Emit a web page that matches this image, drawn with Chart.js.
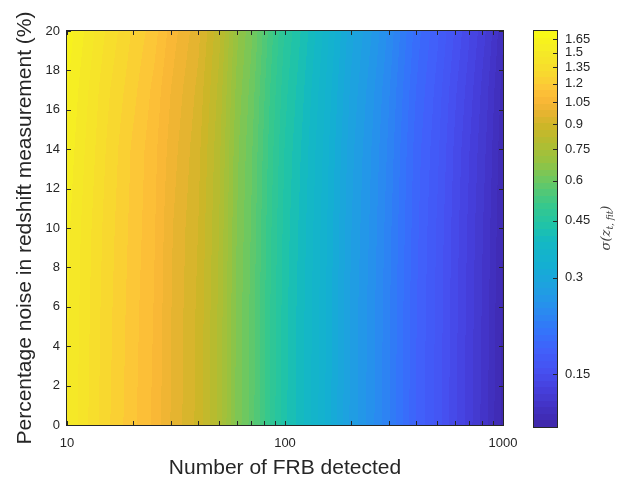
<!DOCTYPE html>
<html>
<head>
<meta charset="utf-8">
<script src="https://cdn.jsdelivr.net/npm/chart.js@4.4.1/dist/chart.umd.min.js"></script>
<style>
html, body { margin: 0; padding: 0; background: #fff; }
#wrap { position: relative; width: 633px; height: 481px; }
#wrap canvas { position: absolute; left: 0; top: 0; }
</style>
</head>
<body>
<div id="wrap">
<canvas id="main" width="633" height="481"></canvas>
<canvas id="cbar" width="633" height="481"></canvas>
</div>
<script>
// number of FRBs (x, log axis)
var frbCounts = [10, 15, 20, 25, 30, 40, 50, 60, 70, 85, 100, 120, 150, 200, 250, 300, 400, 500, 600, 700, 850, 1000];
// redshift noise in % (y)
var noiseLevels = [0, 6, 10, 14, 17, 20];
// sigma(z_t,fit), one row per noise level
var sigmaRows = [
  [1.52, 1.28, 1.16, 1.08, 0.99, 0.89, 0.77, 0.64, 0.58, 0.49, 0.43, 0.39, 0.34, 0.275, 0.245, 0.22, 0.181, 0.162, 0.145, 0.133, 0.119, 0.106],
  [1.53, 1.29, 1.17, 1.09, 0.995, 0.894, 0.774, 0.643, 0.583, 0.492, 0.432, 0.392, 0.342, 0.276, 0.246, 0.221, 0.182, 0.163, 0.146, 0.134, 0.120, 0.107],
  [1.54, 1.30, 1.18, 1.10, 1.00, 0.903, 0.782, 0.650, 0.589, 0.497, 0.436, 0.396, 0.345, 0.279, 0.249, 0.223, 0.184, 0.164, 0.147, 0.135, 0.121, 0.108],
  [1.57, 1.32, 1.19, 1.11, 1.02, 0.917, 0.793, 0.659, 0.597, 0.505, 0.443, 0.402, 0.350, 0.283, 0.252, 0.227, 0.186, 0.167, 0.149, 0.137, 0.123, 0.109],
  [1.60, 1.34, 1.22, 1.13, 1.04, 0.935, 0.809, 0.672, 0.609, 0.515, 0.452, 0.410, 0.357, 0.289, 0.257, 0.231, 0.190, 0.170, 0.152, 0.140, 0.125, 0.111],
  [1.64, 1.38, 1.25, 1.17, 1.07, 0.961, 0.832, 0.691, 0.626, 0.529, 0.464, 0.421, 0.367, 0.297, 0.265, 0.238, 0.195, 0.175, 0.157, 0.144, 0.129, 0.114]
];
var xLabelled = [10, 100, 1000];
var cbTicks = [0.15, 0.3, 0.45, 0.6, 0.75, 0.9, 1.05, 1.2, 1.35, 1.5, 1.65];
var cbMin = 0.103, cbMax = 1.75;
var nLevels = 60;

// parula-like colormap, [t, r, g, b]
var cmap = [
  [0.00, 62, 38, 168], [0.05, 66, 50, 195], [0.10, 70, 65, 222], [0.14, 70, 80, 240],
  [0.19, 65, 95, 250], [0.24, 52, 115, 250], [0.30, 40, 142, 238], [0.35, 30, 160, 225],
  [0.41, 20, 175, 210], [0.47, 20, 185, 195], [0.505, 30, 195, 170], [0.56, 55, 200, 140],
  [0.62, 105, 200, 100], [0.67, 150, 195, 65], [0.72, 180, 188, 48], [0.76, 205, 182, 40],
  [0.80, 235, 180, 50], [0.83, 252, 185, 55], [0.86, 252, 200, 55], [0.90, 247, 220, 45],
  [0.95, 245, 235, 38], [1.00, 249, 250, 20]
];

var FONT = '"Liberation Sans", Arial, sans-serif';
var TXT = '#262626';

function colorAt(t) {
  for (var i = 0; i < cmap.length - 1; i++) {
    var a = cmap[i], b = cmap[i + 1];
    if (t <= b[0]) {
      var f = (t - a[0]) / (b[0] - a[0]);
      return [a[1] + (b[1] - a[1]) * f, a[2] + (b[2] - a[2]) * f, a[3] + (b[3] - a[3]) * f];
    }
  }
  var l = cmap[cmap.length - 1];
  return [l[1], l[2], l[3]];
}

function levelColor(s) {
  var t = (Math.log(s) - Math.log(cbMin)) / (Math.log(cbMax) - Math.log(cbMin));
  t = Math.max(0, Math.min(0.9999, t));
  return colorAt((Math.floor(t * nLevels) + 0.5) / nLevels);
}

function bracket(arr, v) {
  var last = arr.length - 1;
  if (v <= arr[0]) return [0, 0];
  if (v >= arr[last]) return [last - 1, 1];
  for (var i = 0; i < last; i++) {
    if (v <= arr[i + 1]) return [i, (v - arr[i]) / (arr[i + 1] - arr[i])];
  }
}

var logN = frbCounts.map(Math.log);
function sigmaAt(n, p) {
  var bx = bracket(logN, Math.log(n)), by = bracket(noiseLevels, p);
  var i = bx[0], fx = bx[1], j = by[0], fy = by[1];
  var r0 = sigmaRows[j], r1 = sigmaRows[j + 1];
  var a = Math.log(r0[i]) * (1 - fx) + Math.log(r0[i + 1]) * fx;
  var b = Math.log(r1[i]) * (1 - fx) + Math.log(r1[i + 1]) * fx;
  return Math.exp(a * (1 - fy) + b * fy);
}

var fieldPlugin = {
  id: 'field',
  beforeDatasetsDraw: function (chart) {
    var a = chart.chartArea, xs = chart.scales.x, ys = chart.scales.y, ctx = chart.ctx;
    var w = Math.round(a.right - a.left), h = Math.round(a.bottom - a.top);
    var img = ctx.createImageData(w, h);
    for (var py = 0; py < h; py++) {
      var p = ys.getValueForPixel(a.top + py + 0.5);
      for (var px = 0; px < w; px++) {
        var c = levelColor(sigmaAt(xs.getValueForPixel(a.left + px + 0.5), p));
        var k = (py * w + px) * 4;
        img.data[k] = c[0]; img.data[k + 1] = c[1]; img.data[k + 2] = c[2]; img.data[k + 3] = 255;
      }
    }
    ctx.putImageData(img, Math.round(a.left), Math.round(a.top));
  },
  afterDraw: function (chart) {
    var a = chart.chartArea, xs = chart.scales.x, ys = chart.scales.y, ctx = chart.ctx;
    ctx.save();
    ctx.strokeStyle = TXT;
    ctx.lineWidth = 1;
    ctx.beginPath();
    xs.ticks.forEach(function (t) {
      var x = Math.round(xs.getPixelForValue(t.value)) + 0.5;
      ctx.moveTo(x, a.bottom); ctx.lineTo(x, a.bottom - 4);
      ctx.moveTo(x, a.top); ctx.lineTo(x, a.top + 4);
    });
    ys.ticks.forEach(function (t) {
      var y = Math.round(ys.getPixelForValue(t.value)) + 0.5;
      ctx.moveTo(a.left, y); ctx.lineTo(a.left + 4, y);
      ctx.moveTo(a.right, y); ctx.lineTo(a.right - 4, y);
    });
    ctx.stroke();
    ctx.strokeRect(a.left - 0.5, a.top - 0.5, a.right - a.left + 1, a.bottom - a.top + 1);
    ctx.restore();
  }
};

new Chart(document.getElementById('main'), {
  type: 'scatter',
  data: { datasets: [] },
  options: {
    responsive: false,
    animation: false,
    events: [],
    layout: { padding: { left: 0, right: 130, top: 31, bottom: 0 } },
    plugins: { legend: { display: false }, tooltip: { enabled: false } },
    scales: {
      x: {
        type: 'logarithmic', min: 10, max: 1000,
        grid: { display: false, drawTicks: false },
        border: { display: false },
        afterBuildTicks: function (s) {
          var t = [];
          [10, 100].forEach(function (d) { for (var m = 1; m < 10; m++) t.push({ value: d * m }); });
          t.push({ value: 1000 });
          s.ticks = t;
        },
        ticks: {
          autoSkip: false, maxRotation: 0, padding: 11, color: TXT,
          font: { family: FONT, size: 13 },
          callback: function (v) { return xLabelled.indexOf(v) >= 0 ? String(v) : ''; }
        },
        title: {
          display: true, text: 'Number of FRB detected', color: TXT,
          font: { family: FONT, size: 21 }, padding: { top: 0, bottom: 0 }
        },
        afterFit: function (s) { s.height = 56; }
      },
      y: {
        type: 'linear', min: 0, max: 20,
        grid: { display: false, drawTicks: false },
        border: { display: false },
        ticks: { stepSize: 2, padding: 7, color: TXT, font: { family: FONT, size: 13 } },
        title: {
          display: true, text: 'Percentage noise in redshift measurement (%)', color: TXT,
          font: { family: FONT, size: 21 }, padding: { top: 13, bottom: 0 }
        },
        afterFit: function (s) { s.width = 67; }
      }
    }
  },
  plugins: [fieldPlugin]
});

var cbarPlugin = {
  id: 'cbarFill',
  beforeDatasetsDraw: function (chart) {
    var a = chart.chartArea, ys = chart.scales.y, ctx = chart.ctx;
    var w = Math.round(a.right - a.left), h = Math.round(a.bottom - a.top);
    var img = ctx.createImageData(w, h);
    for (var py = 0; py < h; py++) {
      var c = levelColor(ys.getValueForPixel(a.top + py + 0.5));
      for (var px = 0; px < w; px++) {
        var k = (py * w + px) * 4;
        img.data[k] = c[0]; img.data[k + 1] = c[1]; img.data[k + 2] = c[2]; img.data[k + 3] = 255;
      }
    }
    ctx.putImageData(img, Math.round(a.left), Math.round(a.top));
  },
  afterDraw: function (chart) {
    var a = chart.chartArea, ys = chart.scales.y, ctx = chart.ctx;
    ctx.save();
    ctx.strokeStyle = TXT;
    ctx.lineWidth = 1;
    ctx.beginPath();
    ys.ticks.forEach(function (t) {
      var y = Math.round(ys.getPixelForValue(t.value)) + 0.5;
      ctx.moveTo(a.right, y); ctx.lineTo(a.right - 4, y);
    });
    ctx.stroke();
    ctx.strokeRect(a.left - 0.5, a.top - 0.5, a.right - a.left + 1, a.bottom - a.top + 1);

    // colorbar label, rotated
    ctx.translate(606, 228);
    ctx.rotate(-Math.PI / 2);
    ctx.fillStyle = '#404040';
    var big = 'italic 13px "DejaVu Serif", serif', small = 'italic 9px "DejaVu Serif", serif';
    ctx.font = big; var w1 = ctx.measureText('\u03c3(z').width, w3 = ctx.measureText(')').width;
    ctx.font = small; var w2 = ctx.measureText('t, fit').width;
    var x0 = -(w1 + w2 + w3) / 2;
    ctx.textBaseline = 'alphabetic';
    ctx.font = big; ctx.fillText('\u03c3(z', x0, 4);
    ctx.font = small; ctx.fillText('t, fit', x0 + w1, 7);
    ctx.font = big; ctx.fillText(')', x0 + w1 + w2, 4);
    ctx.restore();
  }
};

new Chart(document.getElementById('cbar'), {
  type: 'scatter',
  data: { datasets: [] },
  options: {
    responsive: false,
    animation: false,
    events: [],
    layout: { padding: { left: 534, right: 16, top: 31, bottom: 54 } },
    plugins: { legend: { display: false }, tooltip: { enabled: false } },
    scales: {
      x: { display: false, min: 0, max: 1 },
      y: {
        type: 'logarithmic', position: 'right', min: cbMin, max: cbMax, bounds: 'data',
        grid: { display: false, drawTicks: false },
        border: { display: false },
        afterBuildTicks: function (s) { s.ticks = cbTicks.map(function (v) { return { value: v }; }); },
        ticks: {
          autoSkip: false, padding: 8, color: TXT, font: { family: FONT, size: 13 },
          callback: function (v) { return String(v); }
        },
        afterFit: function (s) { s.width = 60; }
      }
    }
  },
  plugins: [cbarPlugin]
});
</script>
</body>
</html>
